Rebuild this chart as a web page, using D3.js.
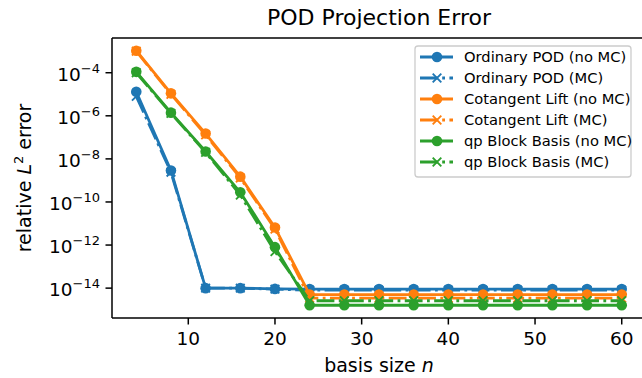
<!DOCTYPE html>
<html><head><meta charset="utf-8">
<script src="https://cdn.jsdelivr.net/npm/d3@7"></script>
<style>
html,body{margin:0;padding:0;background:#fff;}
text{font-family:"DejaVu Sans",sans-serif;fill:#000;}
</style></head>
<body><svg id="c" width="642" height="378"></svg>
<script>
// ---- data ----
const basisSizes = [4, 8, 12, 16, 20, 24, 28, 32, 36, 40, 44, 48, 52, 56, 60];
const ordinaryNoMC = [1.3e-5, 2.9e-9, 1.0e-14, 1.0e-14, 9.2e-15, 9.0e-15, 9.0e-15, 9.0e-15, 9.0e-15, 9.0e-15, 9.0e-15, 9.0e-15, 9.0e-15, 9.0e-15, 9.0e-15];
const ordinaryMC   = [8.0e-6, 2.4e-9, 1.0e-14, 1.0e-14, 9.0e-15, 8.0e-15, 8.0e-15, 8.0e-15, 8.0e-15, 8.0e-15, 8.0e-15, 8.0e-15, 8.0e-15, 8.0e-15, 8.0e-15];
const cotangentNoMC = [1.05e-3, 1.1e-5, 1.5e-7, 1.5e-9, 6.5e-12, 5.0e-15, 5.0e-15, 5.0e-15, 5.0e-15, 5.0e-15, 5.0e-15, 5.0e-15, 5.0e-15, 5.0e-15, 5.0e-15];
const cotangentMC   = [1.0e-3, 1.0e-5, 1.3e-7, 1.3e-9, 5.5e-12, 3.4e-15, 3.4e-15, 3.4e-15, 3.4e-15, 3.4e-15, 3.4e-15, 3.4e-15, 3.4e-15, 3.4e-15, 3.4e-15];
const qpNoMC = [1.1e-4, 1.4e-6, 2.2e-8, 2.8e-10, 8.0e-13, 1.6e-15, 1.6e-15, 1.6e-15, 1.6e-15, 1.6e-15, 1.6e-15, 1.6e-15, 1.6e-15, 1.6e-15, 1.6e-15];
const qpMC   = [1.0e-4, 1.3e-6, 2.0e-8, 2.1e-10, 5.0e-13, 2.6e-15, 2.6e-15, 2.6e-15, 2.6e-15, 2.6e-15, 2.6e-15, 2.6e-15, 2.6e-15, 2.6e-15, 2.6e-15];
const seriesNames = ["Ordinary POD (no MC)", "Ordinary POD (MC)", "Cotangent Lift (no MC)", "Cotangent Lift (MC)", "qp Block Basis (no MC)", "qp Block Basis (MC)"];
const seriesValues = [ordinaryNoMC, ordinaryMC, cotangentNoMC, cotangentMC, qpNoMC, qpMC];
const seriesColors = ["#1f77b4", "#1f77b4", "#ff7f0e", "#ff7f0e", "#2ca02c", "#2ca02c"];
const seriesMC = [false, true, false, true, false, true];
const xTicks = [10, 20, 30, 40, 50, 60];
const yTickExps = [-4, -6, -8, -10, -12, -14];
const titleText = "POD Projection Error";

// ---- layout ----
const svg = d3.select("#c");
const L = 112, T = 38, B = 318, R = 646;
const allVals = seriesValues.flat();
const xmin = d3.min(basisSizes), xmax = d3.max(basisSizes);
const xpad = (xmax - xmin) * 0.05;
const x = d3.scaleLinear().domain([xmin - xpad, xmax + xpad]).range([L, R]);
const lmin = Math.log10(d3.min(allVals)), lmax = Math.log10(d3.max(allVals));
const lpad = (lmax - lmin) * 0.05;
const y = d3.scaleLog().domain([Math.pow(10, lmin - lpad), Math.pow(10, lmax + lpad)]).range([B, T]);

const LW = 2.8, MR = 5.3, XS = 4.3;
const dash = "17.8,4.4,2.8,4.4";

function drawX(g, cx, cy, color) {
  g.append("path").attr("d", `M${cx-XS},${cy-XS}L${cx+XS},${cy+XS}M${cx-XS},${cy+XS}L${cx+XS},${cy-XS}`)
    .attr("stroke", color).attr("stroke-width", 1.9).attr("fill", "none");
}

const plot = svg.append("g");
const line = d3.line().x((d, i) => x(basisSizes[i])).y(d => y(d));
seriesValues.forEach((vals, s) => {
  const g = plot.append("g");
  g.append("path").datum(vals).attr("d", line).attr("fill", "none")
    .attr("stroke", seriesColors[s]).attr("stroke-width", LW)
    .attr("stroke-linejoin", "round").attr("stroke-linecap", seriesMC[s] ? "butt" : "square")
    .attr("stroke-dasharray", seriesMC[s] ? dash : null);
  vals.forEach((v, i) => {
    if (seriesMC[s]) drawX(g, x(basisSizes[i]), y(v), seriesColors[s]);
    else g.append("circle").attr("cx", x(basisSizes[i])).attr("cy", y(v)).attr("r", MR).attr("fill", seriesColors[s]);
  });
});

// ---- axes ----
const ax = svg.append("g");
ax.append("line").attr("x1", L).attr("x2", 642).attr("y1", T).attr("y2", T).attr("stroke", "#000").attr("stroke-width", 1.5);
ax.append("line").attr("x1", L).attr("x2", 642).attr("y1", B).attr("y2", B).attr("stroke", "#000").attr("stroke-width", 1.5);
ax.append("line").attr("x1", L).attr("x2", L).attr("y1", T).attr("y2", B).attr("stroke", "#000").attr("stroke-width", 1.5);

xTicks.forEach(t => {
  const px = x(t);
  ax.append("line").attr("x1", px).attr("x2", px).attr("y1", B).attr("y2", B + 6.5).attr("stroke", "#000").attr("stroke-width", 1.5);
  ax.append("text").attr("x", px).attr("y", B + 27).attr("text-anchor", "middle").attr("font-size", 18.5).text(t);
});
yTickExps.forEach(e => {
  const py = y(Math.pow(10, e));
  ax.append("line").attr("x1", L - 6.5).attr("x2", L).attr("y1", py).attr("y2", py).attr("stroke", "#000").attr("stroke-width", 1.5);
  const t = ax.append("text").attr("x", L - 12).attr("y", py + 8).attr("text-anchor", "end").attr("font-size", 18.5);
  t.append("tspan").text("10");
  t.append("tspan").attr("dy", -8).attr("font-size", 13).text("\u2212" + Math.abs(e));
});

// labels
svg.append("text").attr("x", (L + R) / 2).attr("y", 25).attr("text-anchor", "middle").attr("font-size", 22).text(titleText);
const xl = svg.append("text").attr("x", (L + R) / 2).attr("y", 372).attr("text-anchor", "middle").attr("font-size", 19);
xl.append("tspan").text("basis size ");
xl.append("tspan").attr("font-style", "italic").text("n");
const yl = svg.append("text").attr("transform", `translate(31,${(T + B) / 2}) rotate(-90)`).attr("text-anchor", "middle").attr("font-size", 19);
yl.append("tspan").text("relative ");
yl.append("tspan").attr("font-style", "italic").text("L");
yl.append("tspan").attr("dy", -8).attr("font-size", 13).text("2");
yl.append("tspan").attr("dy", 8).text(" error");

// ---- legend ----
const lg = svg.append("g");
lg.append("rect").attr("x", 415).attr("y", 46).attr("width", 216).attr("height", 131).attr("rx", 3)
  .attr("fill", "#fff").attr("fill-opacity", 0.8).attr("stroke", "#cccccc").attr("stroke-width", 1.3);
seriesNames.forEach((name, s) => {
  const ry = 57 + s * 21;
  lg.append("line").attr("x1", 420).attr("x2", 453).attr("y1", ry).attr("y2", ry)
    .attr("stroke", seriesColors[s]).attr("stroke-width", LW)
    .attr("stroke-dasharray", seriesMC[s] ? dash : null);
  if (seriesMC[s]) drawX(lg, 437, ry, seriesColors[s]);
  else lg.append("circle").attr("cx", 437).attr("cy", ry).attr("r", MR).attr("fill", seriesColors[s]);
  lg.append("text").attr("x", 464).attr("y", ry + 5).attr("font-size", 14.7).text(name);
});
</script></body></html>
